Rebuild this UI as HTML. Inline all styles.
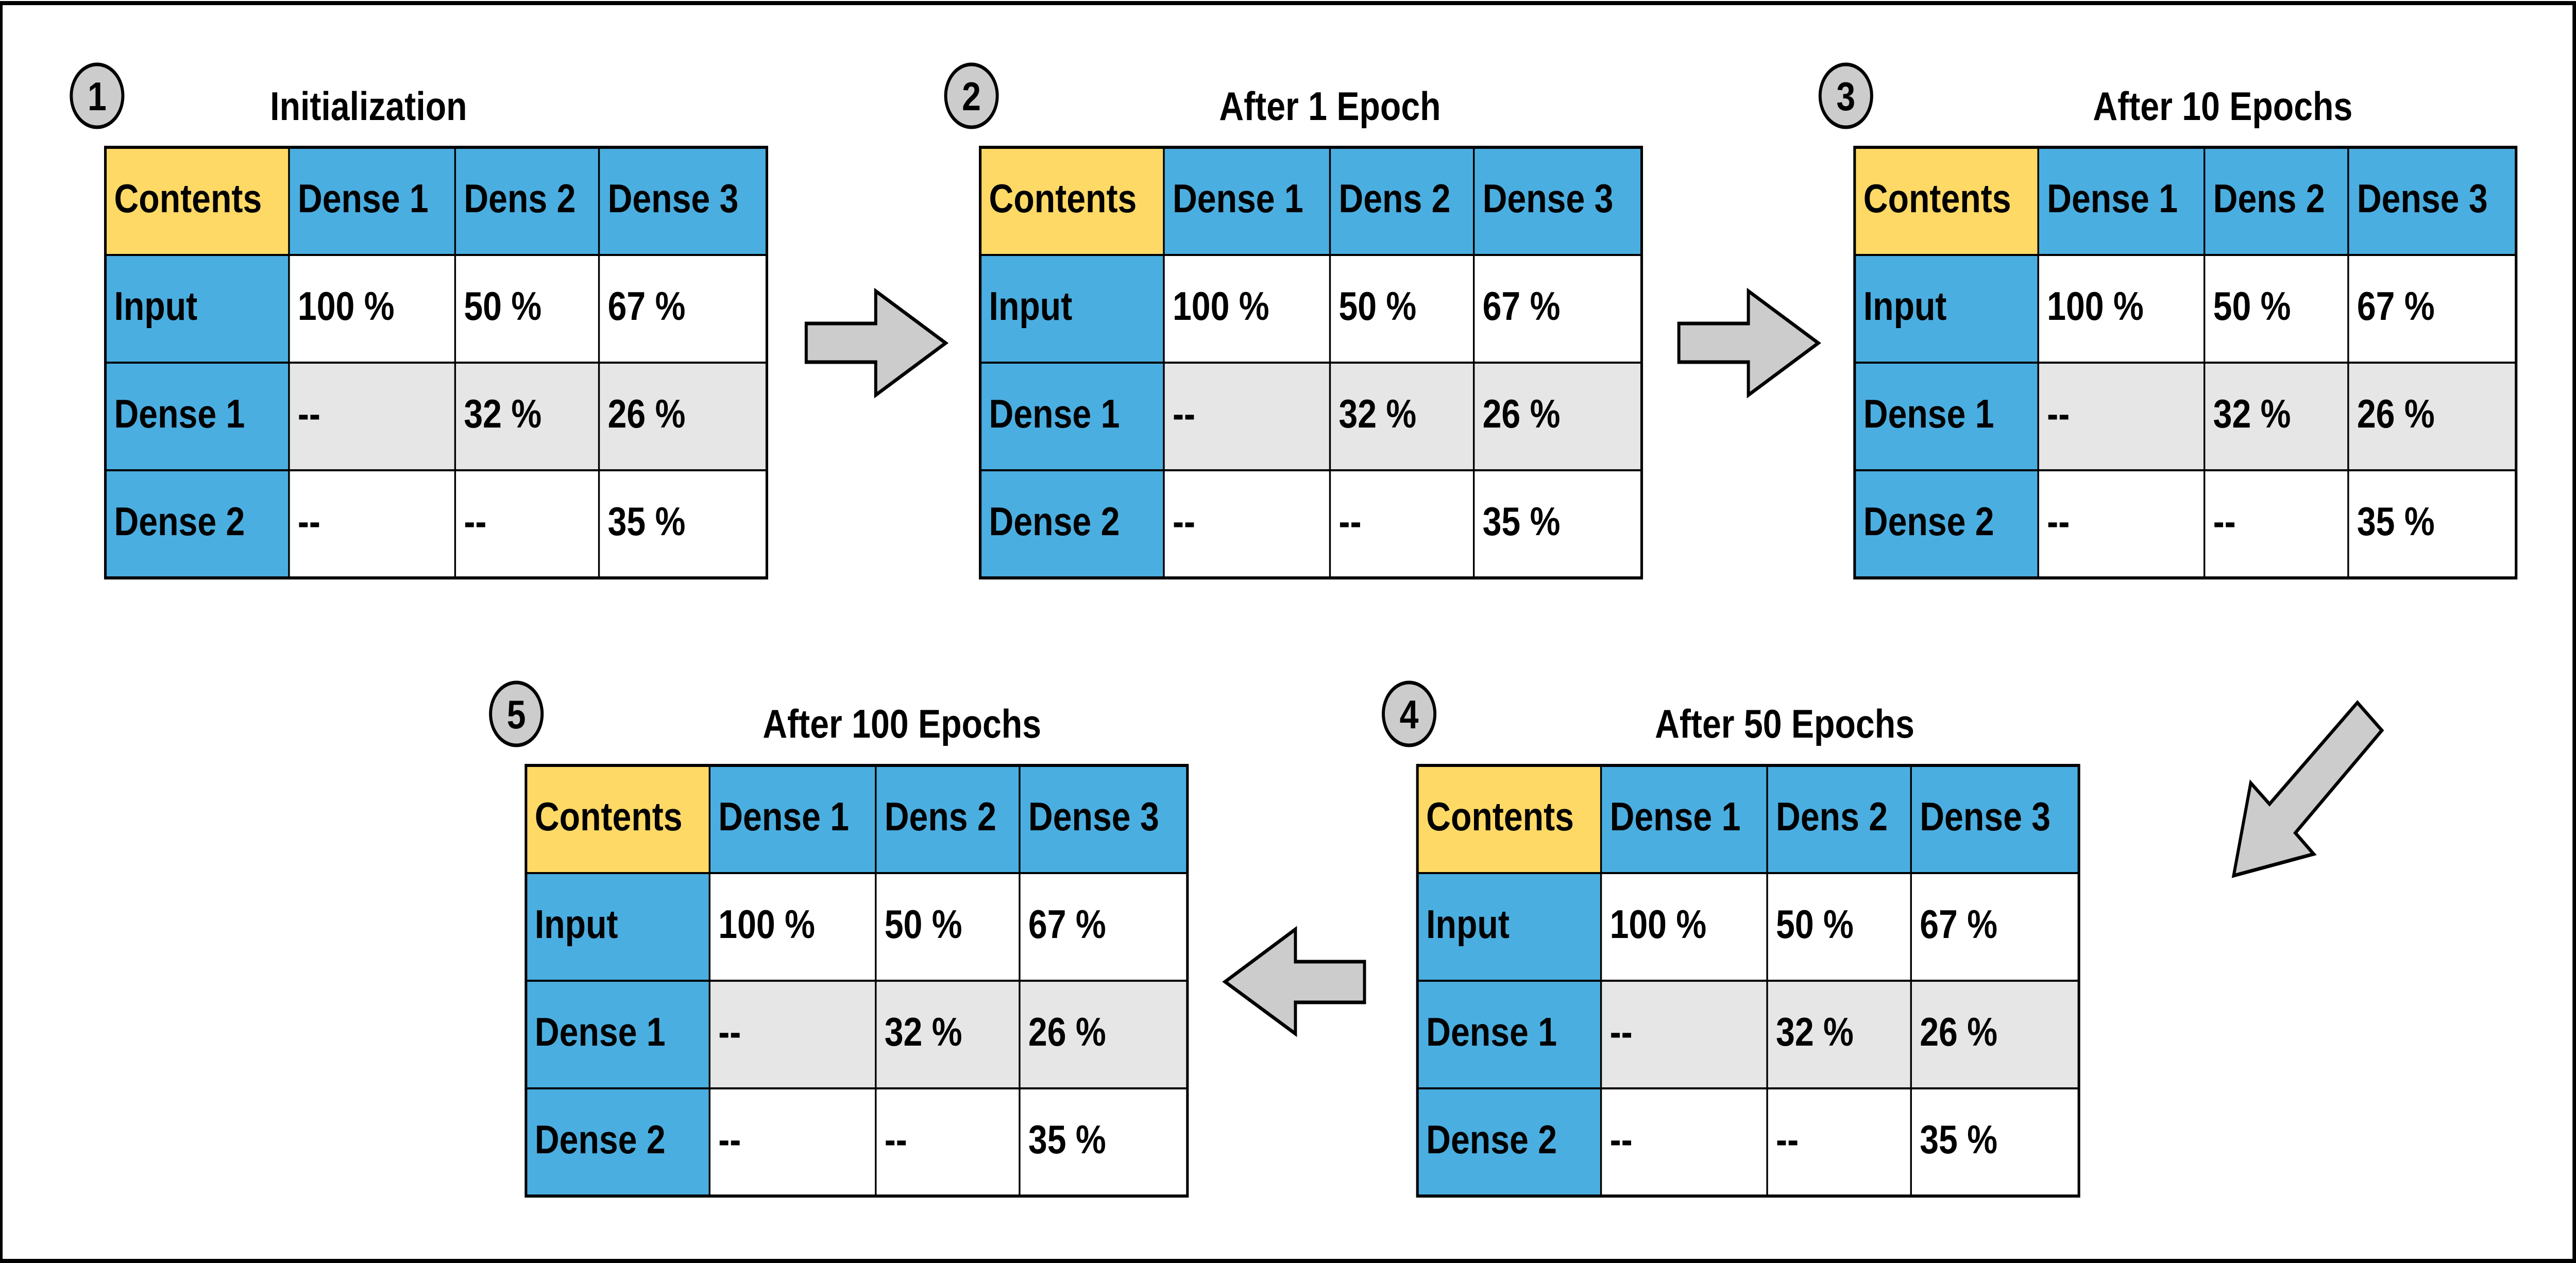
<!DOCTYPE html>
<html><head><meta charset="utf-8"><style>
html,body{margin:0;padding:0;background:#fff;width:100%;height:100%;overflow:hidden;}
svg{display:block;width:100vw;height:100vh;}
text{font-family:"Liberation Sans",Arial,sans-serif;font-weight:bold;font-size:78px;fill:#000;}
</style></head><body>
<svg viewBox="0 0 5892 2452" preserveAspectRatio="none" xmlns="http://www.w3.org/2000/svg">
<rect x="0" y="0" width="5892" height="2452" fill="#fff"/>
<rect x="0" y="2" width="5892" height="8" fill="#000"/>
<rect x="0" y="2444" width="5892" height="8" fill="#000"/>
<rect x="0" y="2" width="6" height="2450" fill="#000"/>
<rect x="5884" y="2" width="8" height="2450" fill="#000"/>

<defs>
<g id="tbl">
  <rect x="0" y="0" width="420" height="209" fill="#FED966"/>
  <rect x="420" y="0" width="1093" height="209" fill="#4BAEE0"/>
  <rect x="0" y="209" width="420" height="627" fill="#4BAEE0"/>
  <rect x="420" y="209" width="1093" height="209" fill="#fff"/>
  <rect x="420" y="418" width="1093" height="209" fill="#E6E6E6"/>
  <rect x="420" y="627" width="1093" height="209" fill="#fff"/>
  <g stroke="#000" stroke-width="4">
    <line x1="0" y1="209" x2="1513" y2="209"/>
    <line x1="0" y1="418" x2="1513" y2="418"/>
    <line x1="0" y1="627" x2="1513" y2="627"/>
    <line x1="420" y1="0" x2="420" y2="836"/>
    <line x1="800" y1="0" x2="800" y2="836"/>
    <line x1="1129" y1="0" x2="1129" y2="836"/>
  </g>
  <rect x="0" y="0" width="1513" height="836" fill="none" stroke="#000" stroke-width="6"/>
  <text x="20" y="126">Contents</text>
  <text x="440" y="126">Dense 1</text>
  <text x="820" y="126">Dens 2</text>
  <text x="1149" y="126">Dense 3</text>
  <text x="20" y="335">Input</text>
  <text x="440" y="335">100 %</text>
  <text x="820" y="335">50 %</text>
  <text x="1149" y="335">67 %</text>
  <text x="20" y="544">Dense 1</text>
  <text x="440" y="544">--</text>
  <text x="820" y="544">32 %</text>
  <text x="1149" y="544">26 %</text>
  <text x="20" y="753">Dense 2</text>
  <text x="440" y="753">--</text>
  <text x="820" y="753">--</text>
  <text x="1149" y="753">35 %</text>
</g>
</defs>

<use href="#tbl" x="241" y="286"/>
<use href="#tbl" x="2242" y="286"/>
<use href="#tbl" x="4242" y="286"/>
<use href="#tbl" x="3242" y="1486"/>
<use href="#tbl" x="1203" y="1486"/>

<g fill="#CCCCCC" stroke="#000" stroke-width="7">
  <ellipse cx="222" cy="186" rx="59" ry="61"/>
  <ellipse cx="2222" cy="186" rx="59" ry="61"/>
  <ellipse cx="4222" cy="186" rx="59" ry="61"/>
  <ellipse cx="3223" cy="1386" rx="59" ry="61"/>
  <ellipse cx="1181" cy="1386" rx="59" ry="61"/>
</g>
<g text-anchor="middle">
  <text x="222" y="214">1</text>
  <text x="2222" y="214">2</text>
  <text x="4222" y="214">3</text>
  <text x="3223" y="1414">4</text>
  <text x="1181" y="1414">5</text>
  <text x="843" y="233">Initialization</text>
  <text x="3042" y="233">After 1 Epoch</text>
  <text x="5084" y="233">After 10 Epochs</text>
  <text x="4082" y="1432">After 50 Epochs</text>
  <text x="2063" y="1432">After 100 Epochs</text>
</g>

<g fill="#CCCCCC" stroke="#000" stroke-width="7" stroke-linejoin="miter">
  <polygon points="1844,628 2003,628 2003,565 2163,666 2003,767 2003,703 1844,703"/>
  <polygon points="3840,628 3999,628 3999,565 4159,666 3999,767 3999,703 3840,703"/>
  <polygon points="3121,1867 2963,1867 2963,1804 2802,1906 2963,2007 2963,1946 3121,1946"/>
  <polygon points="5392,1364 5448,1418 5250,1617 5292,1658 5109,1700 5148,1520 5191,1561"/>
</g>
</svg>
</body></html>
